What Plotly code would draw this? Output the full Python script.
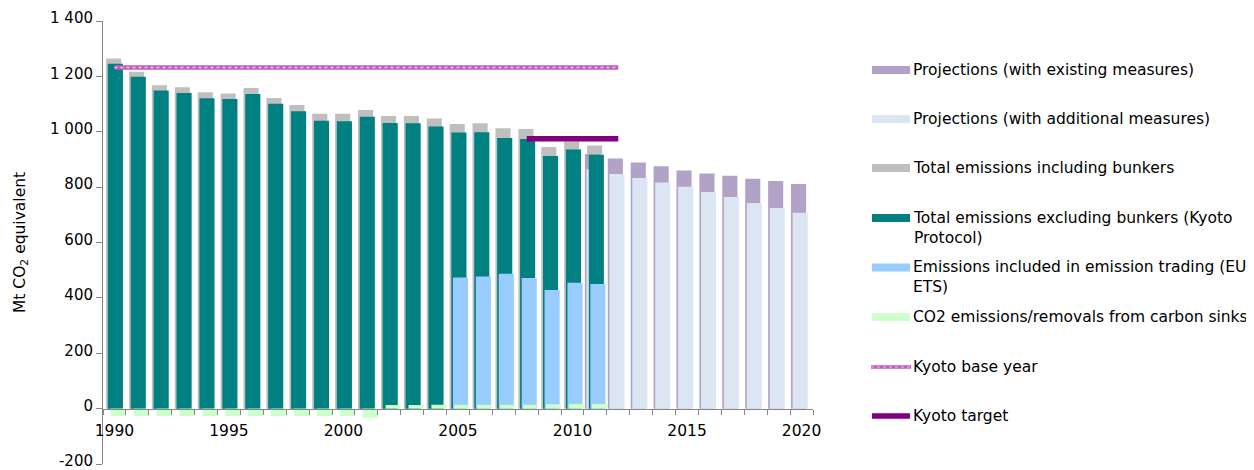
import plotly.graph_objects as go

# ---------------- data ----------------
hist_years = list(range(1990, 2012))
total_incl_bunkers = [1265, 1217, 1168, 1161, 1143, 1138, 1158, 1122, 1097, 1065, 1065,
                      1079, 1057, 1057, 1048, 1028, 1031, 1013, 1010, 945, 965, 950]
total_excl_bunkers = [1246, 1199, 1149, 1140, 1121, 1118, 1136, 1101, 1074, 1040, 1038,
                      1054, 1032, 1031, 1019, 997, 998, 977, 974, 912, 936, 917]
ets_years = list(range(2005, 2012))
eu_ets = [474, 477, 487, 472, 428, 455, 450]
sinks = [-27, -27, -27, -27, -27, -27, -27, -27, -27, -27, -27,
         -33, 13, 13, 14, 14, 14, 14, 14, 16, 17, 17]
proj_years = list(range(2011, 2021))
proj_existing = [920, 903, 889, 875, 860, 849, 841, 830, 822, 811]
proj_additional = [865, 847, 833, 817, 801, 782, 764, 743, 725, 707]
kyoto_base_years = [1990, 2012]
kyoto_base = [1232, 1232]
kyoto_target_years = [2008, 2012]
kyoto_target = [975, 975]

x_tick_vals = [1990, 1995, 2000, 2005, 2010, 2015, 2020]
x_tick_text = ["1990", "1995", "2000", "2005", "2010", "2015", "2020"]
y_tick_vals = [-200, 0, 200, 400, 600, 800, 1000, 1200, 1400]
y_tick_text = ["-200", "0", "200", "400", "600", "800", "1 000", "1 200", "1 400"]

names = ["Projections (with existing measures)",
         "Projections (with additional measures)",
         "Total emissions including bunkers",
         "Total emissions excluding bunkers (Kyoto<br>Protocol)",
         "Emissions included in emission trading (EU<br>ETS)",
         "CO2 emissions/removals from carbon sinks",
         "Kyoto base year",
         "Kyoto target"]

# ---------------- styles ----------------
C_EXIST = "#B3A2C7"
C_ADD = "#DCE6F2"
C_GREY = "#BFBFBF"
C_TEAL = "#008080"
C_ETS = "#99CCFF"
C_SINK = "#CCFFCC"
C_BASE = "#C25BC2"
C_BASE2 = "#EBC0EB"
C_TARGET = "#800080"
FONT = "DejaVu Sans"
FS = 15.5

# page offset of the figure inside the html body (default body margin)
OFF = 8
W, H = 1254 - OFF, 470 - OFF
# plot area, in page pixels
L, R, T, B = 103, 813, 21, 464


def px(xp):
    return (xp - L) / (R - L)


def py(yp):
    return (B - yp) / (B - T)


BW = 0.66
fig = go.Figure()


def add_bar(x, y, color, center_off, name):
    fig.add_trace(go.Bar(x=x, y=y, marker=dict(color=color, line=dict(width=0)),
                         width=BW, offset=center_off - BW / 2, name=name,
                         showlegend=False))


add_bar(hist_years, total_incl_bunkers, C_GREY, -0.035, names[2])
add_bar(proj_years, proj_existing, C_EXIST, -0.13, names[0])
add_bar(proj_years, proj_additional, C_ADD, -0.06, names[1])
add_bar(hist_years, total_excl_bunkers, C_TEAL, 0.04, names[3])
add_bar(ets_years, eu_ets, C_ETS, 0.11, names[4])
add_bar(hist_years, sinks, C_SINK, 0.17, names[5])

fig.add_trace(go.Scatter(x=kyoto_base_years, y=kyoto_base, mode="lines",
                         line=dict(color=C_BASE, width=4.5), name=names[6],
                         showlegend=False))
fig.add_trace(go.Scatter(x=kyoto_base_years, y=kyoto_base, mode="lines",
                         line=dict(color=C_BASE2, width=1.5, dash="dot"),
                         hoverinfo="skip", showlegend=False))
fig.add_trace(go.Scatter(x=kyoto_target_years, y=kyoto_target, mode="lines",
                         line=dict(color=C_TARGET, width=5.5), name=names[7],
                         showlegend=False))

# ---------------- manual legend ----------------
shapes = []
annotations = []
item_y = [70, 119, 168, 218, 267.5, 317, 367, 416]
swatch_colors = [C_EXIST, C_ADD, C_GREY, C_TEAL, C_ETS, C_SINK]
for i, nm in enumerate(names):
    yc = item_y[i]
    if i < 6:
        shapes.append(dict(type="rect", xref="paper", yref="paper",
                           x0=px(872), x1=px(910), y0=py(yc + 4), y1=py(yc - 4),
                           fillcolor=swatch_colors[i], line=dict(width=0)))
    elif i == 6:
        shapes.append(dict(type="line", xref="paper", yref="paper",
                           x0=px(871), x1=px(911), y0=py(yc), y1=py(yc),
                           line=dict(color=C_BASE, width=3.5)))
        shapes.append(dict(type="line", xref="paper", yref="paper",
                           x0=px(871), x1=px(911), y0=py(yc), y1=py(yc),
                           line=dict(color=C_BASE2, width=1.2, dash="dot")))
    else:
        shapes.append(dict(type="line", xref="paper", yref="paper",
                           x0=px(872), x1=px(910), y0=py(yc), y1=py(yc),
                           line=dict(color=C_TARGET, width=5.5)))
    two = "<br>" in nm
    annotations.append(dict(xref="paper", yref="paper", x=px(911),
                            y=py(yc + (9.8 if two else 0)), text=nm,
                            showarrow=False, xanchor="left", yanchor="middle",
                            align="left", font=dict(family=FONT, size=FS, color="#000")))

fig.update_layout(
    width=W, height=H,
    margin=dict(l=L - OFF, r=W - (R - OFF), t=T - OFF, b=H - (B - OFF), pad=0),
    barmode="overlay",
    paper_bgcolor="white", plot_bgcolor="white",
    font=dict(family=FONT, size=FS, color="#000"),
    shapes=shapes, annotations=annotations,
    showlegend=False,
    xaxis=dict(range=[1989.5, 2020.5], tickmode="array", tickvals=x_tick_vals,
               ticktext=x_tick_text, ticks="", showgrid=False, zeroline=False,
               showline=True, linecolor="#868686", linewidth=1,
               anchor="free", position=200 / 1600, ticklabelstandoff=8,
               automargin=False,
               minor=dict(ticks="outside", tick0=1989.5, dtick=1, ticklen=5,
                          tickcolor="#868686", tickwidth=1, showgrid=False),
               tickfont=dict(family=FONT, size=FS, color="#000")),
    yaxis=dict(range=[-200, 1400], tickmode="array", tickvals=y_tick_vals,
               ticktext=y_tick_text, ticks="outside", ticklen=6,
               tickcolor="#868686", showgrid=False, zeroline=False,
               showline=True, linecolor="#868686", linewidth=1,
               ticklabeloverflow="allow", automargin="left", ticklabelshift=-3,
               tickfont=dict(family=FONT, size=15, color="#000"),
               title=dict(text="Mt CO<sub>2</sub> equivalent", standoff=20,
                          font=dict(family=FONT, size=FS, color="#000"))),
)

fig.write_html("out.html")
